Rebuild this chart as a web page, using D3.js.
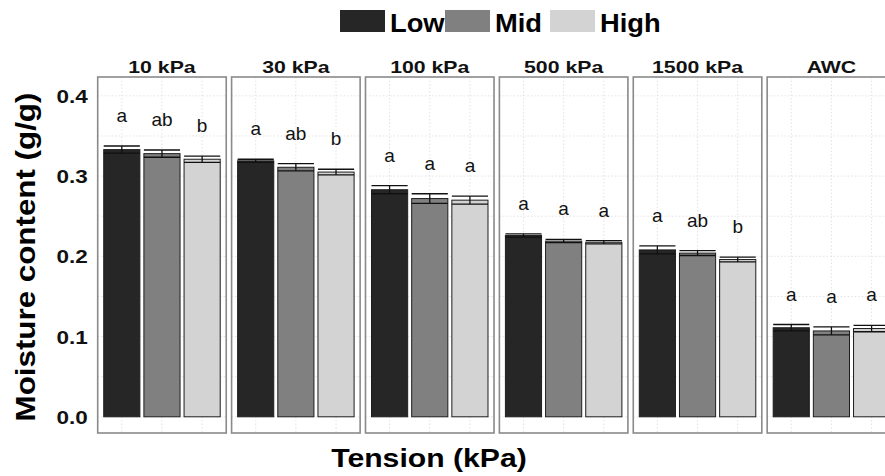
<!DOCTYPE html>
<html>
<head>
<meta charset="utf-8">
<script src="https://cdn.jsdelivr.net/npm/d3@7"></script>
<style>
  body { margin: 0; background: #fff; }
  svg { display: block; font-family: "Liberation Sans", Arial, sans-serif; }
</style>
</head>
<body>
<svg id="chart" width="885" height="476"></svg>
<script>
// -----------------------------
// Data
// -----------------------------
const tensions = ["10 kPa", "30 kPa", "100 kPa", "500 kPa", "1500 kPa", "AWC"];
const groups = ["Low", "Mid", "High"];

const meanLow = [0.333, 0.319, 0.283, 0.226, 0.208, 0.111];
const meanMid = [0.328, 0.311, 0.272, 0.219, 0.204, 0.107];
const meanHigh = [0.321, 0.305, 0.270, 0.2175, 0.196, 0.110];

const seLow = [0.0045, 0.002, 0.005, 0.002, 0.005, 0.004];
const seMid = [0.0045, 0.0045, 0.006, 0.002, 0.003, 0.005];
const seHigh = [0.004, 0.0035, 0.005, 0.002, 0.003, 0.004];

const lettersLow = ["a", "a", "a", "a", "a", "a"];
const lettersMid = ["ab", "ab", "a", "a", "ab", "a"];
const lettersHigh = ["b", "b", "a", "a", "b", "a"];

const yTicks = [0, 0.1, 0.2, 0.3, 0.4];
const gridTicks = [0, 0.05, 0.1, 0.15, 0.2, 0.25, 0.3, 0.35, 0.4];

const COLORS = new Map([
  ["Low", "#262626"],
  ["Mid", "#808080"],
  ["High", "#d3d3d3"],
]);

const series = { Low: [meanLow, seLow, lettersLow], Mid: [meanMid, seMid, lettersMid], High: [meanHigh, seHigh, lettersHigh] };
const rows = [];
tensions.forEach((t, i) => {
  groups.forEach((g) => {
    const [m, s, l] = series[g];
    rows.push({ tension: t, group: g, mean: m[i], se: s[i], letter: l[i] });
  });
});

// -----------------------------
// Layout
// -----------------------------
const svg = d3.select("#chart");
const panelTop = 77;
const panelBottom = 433;

const panelX = d3.scaleBand().domain(tensions).range([97.7, 895.7]).paddingInner(0.04).paddingOuter(0);
const x = d3.scaleBand().domain(groups).range([0, panelX.bandwidth()]).paddingInner(0.1).paddingOuter(0.15);
const y = d3.scaleLinear().domain([-0.0202, 0.4235]).range([panelBottom, panelTop]);

// stretch text horizontally (the original font runs wide)
function stretch(sel, f) {
  sel.each(function () {
    const w = this.getComputedTextLength();
    d3.select(this).attr("textLength", w * f).attr("lengthAdjust", "spacingAndGlyphs");
  });
}

// -----------------------------
// Panels
// -----------------------------
const panels = svg.selectAll("g.panel")
  .data(tensions)
  .join("g")
  .attr("class", "panel")
  .attr("transform", (d) => `translate(${panelX(d)},0)`);

// faint dotted grid
panels.each(function () {
  const p = d3.select(this);
  p.selectAll("line.hgrid")
    .data(gridTicks)
    .join("line")
    .attr("x1", 0)
    .attr("x2", panelX.bandwidth())
    .attr("y1", (d) => y(d))
    .attr("y2", (d) => y(d))
    .attr("stroke", "#dcdcdc")
    .attr("stroke-width", 0.8)
    .attr("stroke-dasharray", "1.5,2");
  p.selectAll("line.vgrid")
    .data(groups)
    .join("line")
    .attr("x1", (d) => x(d) + x.bandwidth() / 2)
    .attr("x2", (d) => x(d) + x.bandwidth() / 2)
    .attr("y1", panelTop)
    .attr("y2", panelBottom)
    .attr("stroke", "#dcdcdc")
    .attr("stroke-width", 0.8)
    .attr("stroke-dasharray", "1.5,2");
});

// bars
panels.selectAll("rect.bar")
  .data((t) => rows.filter((r) => r.tension === t))
  .join("rect")
  .attr("class", "bar")
  .attr("x", (d) => x(d.group))
  .attr("width", x.bandwidth())
  .attr("y", (d) => y(d.mean))
  .attr("height", (d) => y(0) - y(d.mean))
  .attr("fill", (d) => COLORS.get(d.group))
  .attr("stroke", "#1e1e1e")
  .attr("stroke-width", 1);

// error bars: caps span the bar width
const eb = panels.selectAll("g.err")
  .data((t) => rows.filter((r) => r.tension === t))
  .join("g")
  .attr("class", "err")
  .attr("stroke", "#111")
  .attr("stroke-width", 1.3);

eb.append("line")
  .attr("x1", (d) => x(d.group) + x.bandwidth() / 2)
  .attr("x2", (d) => x(d.group) + x.bandwidth() / 2)
  .attr("y1", (d) => y(d.mean - d.se))
  .attr("y2", (d) => y(d.mean + d.se));
eb.append("line")
  .attr("x1", (d) => x(d.group))
  .attr("x2", (d) => x(d.group) + x.bandwidth())
  .attr("y1", (d) => y(d.mean + d.se))
  .attr("y2", (d) => y(d.mean + d.se));
eb.append("line")
  .attr("x1", (d) => x(d.group))
  .attr("x2", (d) => x(d.group) + x.bandwidth())
  .attr("y1", (d) => y(d.mean - d.se))
  .attr("y2", (d) => y(d.mean - d.se));

// significance letters
panels.selectAll("text.letter")
  .data((t) => rows.filter((r) => r.tension === t))
  .join("text")
  .attr("class", "letter")
  .attr("x", (d) => x(d.group) + x.bandwidth() / 2)
  .attr("y", (d) => y(d.mean + d.se) - 24)
  .attr("text-anchor", "middle")
  .style("font-size", "19px")
  .style("fill", "#111")
  .text((d) => d.letter);

// panel border
panels.append("rect")
  .attr("x", 0)
  .attr("y", panelTop)
  .attr("width", panelX.bandwidth())
  .attr("height", panelBottom - panelTop)
  .attr("fill", "none")
  .attr("stroke", "#8a8a8a")
  .attr("stroke-width", 1.6);

// strip labels
panels.append("text")
  .attr("x", panelX.bandwidth() / 2)
  .attr("y", 73)
  .attr("text-anchor", "middle")
  .style("font-size", "17px")
  .style("font-weight", "bold")
  .style("fill", "#111")
  .text((d) => d)
  .call(stretch, 1.25);

// -----------------------------
// Axes
// -----------------------------
svg.append("g")
  .attr("transform", `translate(${panelX.range()[0]},0)`)
  .call(d3.axisLeft(y).tickValues(yTicks).tickFormat(d3.format(".1f")).tickSize(0).tickPadding(10))
  .call((g) => g.select(".domain").remove())
  .call((g) => g.selectAll("text")
    .attr("dy", "0.36em")
    .style("font-size", "18px")
    .style("font-weight", "bold")
    .style("font-family", "'Liberation Sans', Arial, sans-serif")
    .style("fill", "#111")
    .call(stretch, 1.25));

svg.append("text")
  .attr("transform", "translate(35,257) rotate(-90)")
  .attr("text-anchor", "middle")
  .style("font-size", "27px")
  .style("font-weight", "bold")
  .style("fill", "#000")
  .text("Moisture content (g/g)")
  .call(stretch, 1.16);

svg.append("text")
  .attr("x", 429)
  .attr("y", 467)
  .attr("text-anchor", "middle")
  .style("font-size", "26px")
  .style("font-weight", "bold")
  .style("fill", "#000")
  .text("Tension (kPa)")
  .call(stretch, 1.16);

// -----------------------------
// Legend
// -----------------------------
const legendX = d3.scalePoint().domain(groups).range([340, 550]);
const legend = svg.selectAll("g.legend")
  .data(groups)
  .join("g")
  .attr("class", "legend")
  .attr("transform", (d) => `translate(${legendX(d)},10)`);

legend.append("rect")
  .attr("width", 45)
  .attr("height", 22)
  .attr("fill", (d) => COLORS.get(d));

legend.append("text")
  .attr("x", 50)
  .attr("y", 22)
  .style("font-size", "26px")
  .style("font-weight", "bold")
  .style("fill", "#000")
  .text((d) => d)
  .call(stretch, 1.05);
</script>
</body>
</html>
